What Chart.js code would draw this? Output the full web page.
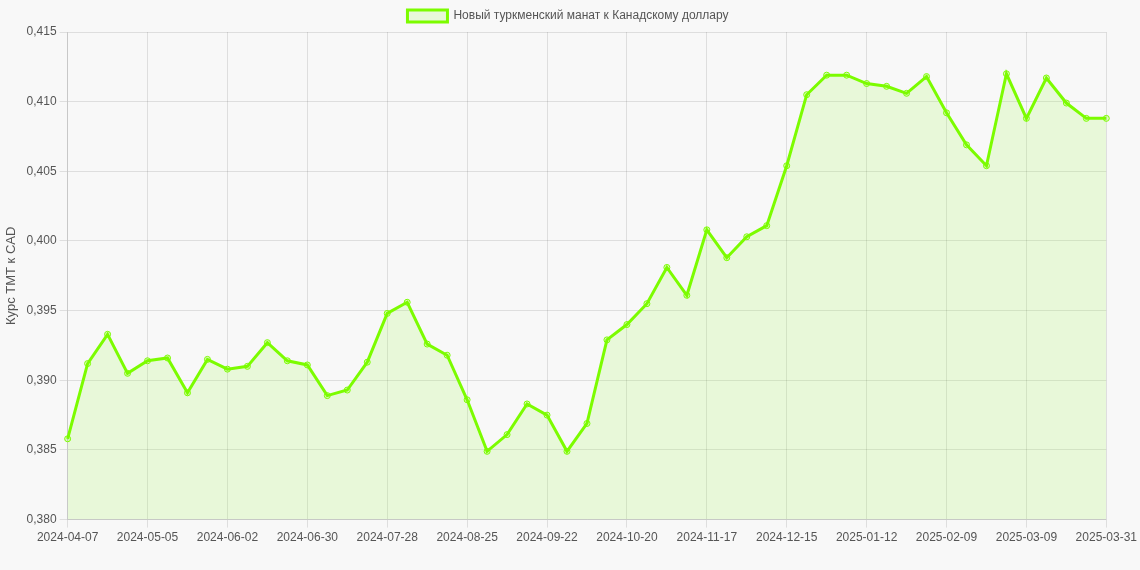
<!DOCTYPE html>
<html><head><meta charset="utf-8">
<script src="https://cdn.jsdelivr.net/npm/chart.js@4/dist/chart.umd.min.js"></script>
<style>html,body{margin:0;padding:0;background:#f8f8f8;}#w{width:1140px;height:570px;}</style>
</head><body><div id="w"><canvas id="c"></canvas></div>
<script>
const labels = ["2024-04-07","2024-04-14","2024-04-21","2024-04-28","2024-05-05","2024-05-12","2024-05-19","2024-05-26","2024-06-02","2024-06-09","2024-06-16","2024-06-23","2024-06-30","2024-07-07","2024-07-14","2024-07-21","2024-07-28","2024-08-04","2024-08-11","2024-08-18","2024-08-25","2024-09-01","2024-09-08","2024-09-15","2024-09-22","2024-09-29","2024-10-06","2024-10-13","2024-10-20","2024-10-27","2024-11-03","2024-11-10","2024-11-17","2024-11-24","2024-12-01","2024-12-08","2024-12-15","2024-12-22","2024-12-29","2025-01-05","2025-01-12","2025-01-19","2025-01-26","2025-02-02","2025-02-09","2025-02-16","2025-02-23","2025-03-02","2025-03-09","2025-03-16","2025-03-23","2025-03-30","2025-03-31"];
const rates = [0.3858,0.3912,0.3933,0.3905,0.3914,0.3916,0.3891,0.3915,0.3908,0.3910,0.3927,0.3914,0.3911,0.3889,0.3893,0.3913,0.3948,0.3956,0.3926,0.3918,0.3886,0.3849,0.3861,0.3883,0.3875,0.3849,0.3869,0.3929,0.3940,0.3955,0.3981,0.3961,0.4008,0.3988,0.4003,0.4011,0.4054,0.4105,0.4119,0.4119,0.4113,0.4111,0.4106,0.4118,0.4092,0.4069,0.4054,0.4120,0.4088,0.4117,0.4099,0.4088,0.4088];
const seriesName = "Новый туркменский манат к Канадскому доллару";
const yTitle = "Курс ТМТ к CAD";
Chart.defaults.font.family = "'Liberation Sans', Arial, sans-serif";
Chart.defaults.font.size = 12;
Chart.defaults.color = "#555";
new Chart(document.getElementById('c'), {
  type: 'line',
  data: { labels, datasets: [{
    label: seriesName, data: rates,
    borderColor: '#7cfc00', backgroundColor: 'rgba(124,252,0,0.12)',
    fill: true, borderWidth: 3, tension: 0,
    pointRadius: 3, pointBorderWidth: 1, pointBackgroundColor: 'rgba(124,252,0,0.2)', pointBorderColor: '#7cfc00'
  }]},
  options: {
    responsive: true, maintainAspectRatio: false, animation: false,
    layout: { padding: { right: 4, bottom: 22 } },
    plugins: { legend: { labels: { boxWidth: 40, boxHeight: 12 } }, tooltip: { enabled: false } },
    scales: {
      x: { grid: { color: 'rgba(0,0,0,0.1)' }, ticks: { maxRotation: 0, autoSkip: true, color: '#555' } },
      y: { min: 0.38, max: 0.415, grid: { color: 'rgba(0,0,0,0.1)' },
           title: { display: true, text: yTitle, color: '#555', font: { size: 13 } },
           ticks: { stepSize: 0.005, callback: v => v.toFixed(3).replace('.', ','), color: '#555' } }
    }
  }
});
</script></body></html>
